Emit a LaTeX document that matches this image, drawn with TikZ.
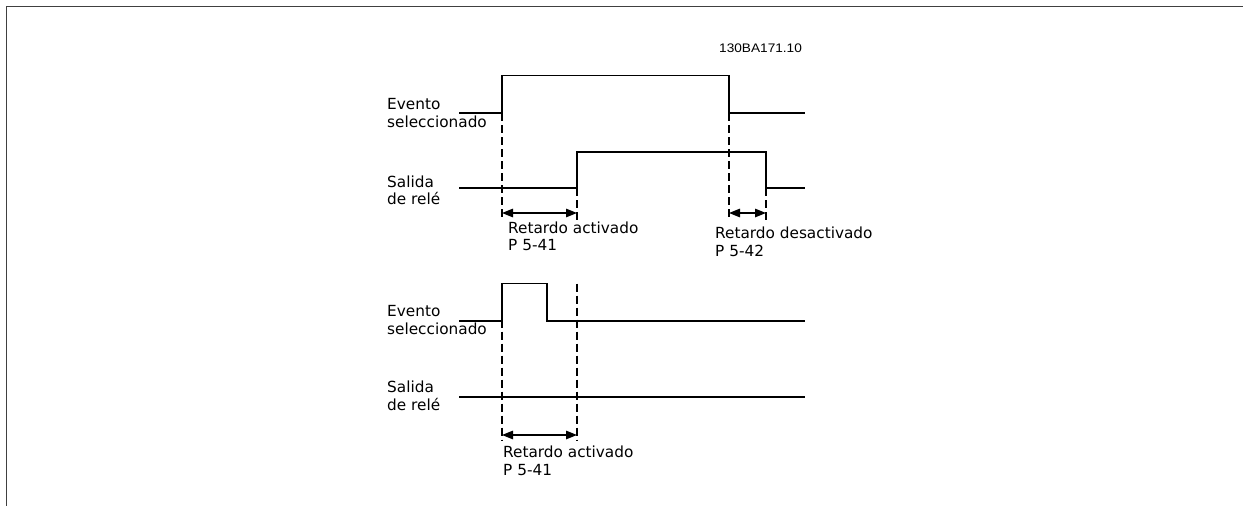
\documentclass[tikz,border=0pt]{standalone}
\usepackage{fontspec}
\setmainfont{DejaVu Sans}
\newfontfamily\codefont{Liberation Sans}
\usetikzlibrary{arrows.meta}
\begin{document}
\begin{tikzpicture}[x=1pt,y=-1pt,
  sig/.style={line width=1.6pt,black},
  guide/.style={line width=1.3pt,black,dash pattern=on 8pt off 4pt},
  dimarrow/.style={line width=1.4pt,black,{Triangle[length=11pt,width=8.5pt]}-{Triangle[length=11pt,width=8.5pt]}},
  lbl/.style={anchor=base west,inner sep=0pt,font=\fontsize{15.3}{17.5}\selectfont},
  codelbl/.style={anchor=base west,inner sep=0pt,font=\codefont\fontsize{12.4}{14}\selectfont,xscale=1.1}]
\useasboundingbox (0,0) rectangle (1243,506);
% frame
\draw[gray!50!black,line width=1.7pt] (1243,6.5) -- (6.5,6.5) -- (6.5,506);
% drawing code
\node[codelbl] (code) at (719,52) {130BA171.10};
% ---------- upper diagram ----------
\node[lbl] (ev1a) at (387,109) {Evento};
\node[lbl] (ev1b) at (387,127) {seleccionado};
\node[lbl] (sa1a) at (387,187) {Salida};
\node[lbl] (sa1b) at (387,204) {de relé};
\draw[sig] (459,113) -- (502,113) -- (502,75.5) -- (729,75.5) -- (729,113) -- (805,113);
\draw[sig] (459,188) -- (577,188) -- (577,152) -- (766,152) -- (766,188) -- (805,188);
\draw[guide] (502,113) -- (502,220);
\draw[guide] (577,188) -- (577,220);
\draw[guide] (729,113) -- (729,220);
\draw[guide] (766,188) -- (766,220);
\coordinate (a1l) at (502,213);
\coordinate (a1r) at (577,213);
\coordinate (a2l) at (729,213);
\coordinate (a2r) at (766,213);
\draw[dimarrow] (a1l) -- (a1r);
\draw[dimarrow] (a2l) -- (a2r);
\node[lbl] (ra1) at (508,233) {Retardo activado};
\node[lbl] (pa1) at (508,250) {P 5-41};
\node[lbl] (rd1) at (715,238) {Retardo desactivado};
\node[lbl] (pd1) at (715,256) {P 5-42};
% ---------- lower diagram ----------
\node[lbl] (ev2a) at (387,316) {Evento};
\node[lbl] (ev2b) at (387,334) {seleccionado};
\node[lbl] (sa2a) at (387,392) {Salida};
\node[lbl] (sa2b) at (387,410) {de relé};
\draw[sig] (459,321) -- (502,321) -- (502,283.5) -- (547,283.5) -- (547,321) -- (805,321);
\draw[sig] (459,397) -- (805,397);
\draw[guide] (502,283.5) -- (502,440);
\draw[guide] (577,283.5) -- (577,440);
\coordinate (a3l) at (502,435);
\coordinate (a3r) at (577,435);
\draw[dimarrow] (a3l) -- (a3r);
\node[lbl] (ra2) at (503,457) {Retardo activado};
\node[lbl] (pa2) at (503,475) {P 5-41};
\end{tikzpicture}
\end{document}
